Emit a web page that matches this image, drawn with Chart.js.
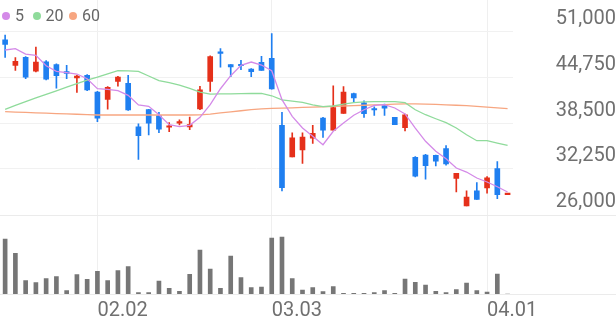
<!DOCTYPE html>
<html><head><meta charset="utf-8">
<script src="https://cdn.jsdelivr.net/npm/chart.js@4/dist/chart.umd.min.js"></script>
<style>
html,body{margin:0;padding:0;background:#fff;}
#wrap{position:relative;width:616px;height:321px;overflow:hidden;}
#legend{position:absolute;left:0;top:0;font-family:Roboto,sans-serif;font-size:16px;color:#666;}
.item{position:absolute;top:8px;height:16px;line-height:16px;display:flex;align-items:center;white-space:nowrap;}
.dot{width:8px;height:8px;border-radius:50%;margin-right:5px;}
</style></head>
<body><div id="wrap"><canvas id="c" width="616" height="321"></canvas><div id="legend"></div></div>
<script>
const dates = ['01.20','01.21','01.22','01.23','01.26','01.27','01.28','01.29','01.30',
  '02.02','02.03','02.04','02.05','02.06','02.09','02.10','02.11','02.12','02.13','02.19','02.20','02.23','02.24','02.25','02.26','02.27',
  '03.03','03.04','03.05','03.06','03.09','03.10','03.11','03.12','03.13','03.16','03.17','03.18','03.19','03.20','03.23','03.24','03.25','03.26','03.27','03.30','03.31',
  '04.01','04.02','04.03'];
const monthTicks = ['02.02','03.03','04.01'];
const priceTicks = [26000,32250,38500,44750,51000];

const openP  = [49900,46400,47500,45600,46900,46500,45550,44700,45050,42750,41750,44200,43950,38000,40350,39550,37950,38500,38000,40450,44200,48250,46500,46550,45900,46800,47350,38200,33900,34850,36450,39200,37550,39850,42550,41300,40450,40900,39300,37900,33850,34150,34100,35050,30950,27200,29250,29650,32300,28750];
const closeP = [49250,46950,44800,46850,44500,45000,45300,44950,43050,39200,43400,44800,40300,36800,38500,37700,38150,38700,38300,43050,47600,48050,46200,46350,45550,45700,43200,29700,36500,36600,37100,37550,40650,42750,41950,39800,40300,40550,38300,39650,31250,32700,33300,32950,31650,28400,28100,31050,28750,28850];
const highP  = [50550,47450,47600,48900,47050,46600,46400,45050,45150,42850,43500,44900,45050,38400,40400,40000,38600,38950,39350,43550,47700,48700,46500,47100,45950,47650,50750,40000,37200,37200,38200,39300,43600,43500,42600,41550,40750,41100,39300,39750,33950,34250,34150,35450,31650,29250,30400,31200,33250,28850];
const lowP   = [47500,45700,44600,45500,44400,43300,44600,42700,42950,38700,40400,43550,40250,33550,36900,37200,37350,38250,37600,40350,42850,46150,44850,45800,44850,45700,43150,29250,33900,33000,35750,36550,37550,39850,41400,39300,39550,39550,38300,37450,31150,30850,32650,32750,29100,27200,28100,28950,28200,28750];
const volume = [550000,407000,133000,113000,153000,173000,33000,193000,147000,227000,133000,233000,273000,13000,13000,130000,57000,27000,197000,440000,250000,57000,380000,163000,63000,70000,560000,570000,153000,40000,63000,23000,73000,7000,7000,7000,13000,33000,7000,150000,117000,90000,27000,13000,43000,110000,33000,20000,200000,0];
const ma5  = [48500,48680,47950,47770,46350,45590,45400,45220,44580,43210,43130,42940,42310,40990,40800,39660,38290,38020,38210,39300,41030,43210,44990,46400,46860,46450,45670,41710,39440,37840,36710,35560,37390,38530,39580,40340,40940,41030,40580,39760,37840,36030,34660,33650,32380,31830,31010,30470,29820,29100];
const ma20 = [40400,40930,41450,41950,42450,42930,43420,43900,44400,44800,45250,45670,45650,45590,44950,44330,44050,43700,43250,42750,42480,42500,42520,42540,42560,42560,42250,41700,41530,41350,40990,40760,40850,41120,41300,41400,41450,41450,41450,41300,40340,39660,39110,38570,37840,36930,36110,36110,35790,35480];
const ma60 = [40070,40020,39970,39920,39870,39820,39770,39720,39670,39620,39620,39620,39620,39620,39620,39620,39620,39620,39620,39650,39750,39900,40050,40200,40350,40450,40530,40550,40600,40650,40700,40750,40800,40850,40890,40950,41000,41050,41100,41150,41150,41100,41080,41000,40950,40900,40800,40700,40600,40500];
const maNames = ['5','20','60'];

const UP = '#e5301a', DOWN = '#1f7ff0';
const MA_COLORS = ['#d48ae8','#8fdb9b','#f7a681'];
const candleColor = openP.map((o,i) => closeP[i] >= o ? UP : DOWN);

// legend (HTML text)
const legendPos = [2, 32.5, 69];
const lg = document.getElementById('legend');
maNames.forEach((n,i) => {
  const it = document.createElement('div');
  it.className = 'item'; it.style.left = legendPos[i] + 'px';
  it.innerHTML = '<span class="dot" style="background:' + MA_COLORS[i] + '"></span><span>' + n + '</span>';
  lg.appendChild(it);
});

const separators = {
  id: 'separators',
  beforeDatasetsDraw(chart) {
    const {ctx, chartArea, scales} = chart;
    const y0 = Math.round(scales.y.getPixelForValue(priceTicks[0])) + 0.5;
    const yb = Math.round(chartArea.bottom) + 0.5;
    ctx.save();
    ctx.strokeStyle = '#ebebeb'; ctx.lineWidth = 1;
    ctx.beginPath(); ctx.moveTo(0, y0); ctx.lineTo(chart.width, y0);
    ctx.moveTo(0, yb); ctx.lineTo(chart.width, yb); ctx.stroke();
    ctx.restore();
  }
};

const font = {family: 'Roboto', size: 20};
new Chart(document.getElementById('c'), {
  type: 'bar',
  data: {
    labels: dates,
    datasets: [
      {type:'line', label:'MA5', data: ma5, yAxisID:'y', borderColor: MA_COLORS[0], borderWidth:1.3, pointRadius:0, tension:0, order:0},
      {type:'line', label:'MA20', data: ma20, yAxisID:'y', borderColor: MA_COLORS[1], borderWidth:1.3, pointRadius:0, tension:0, order:0},
      {type:'line', label:'MA60', data: ma60, yAxisID:'y', borderColor: MA_COLORS[2], borderWidth:1.3, pointRadius:0, tension:0, order:0},
      {label:'body', data: openP.map((o,i) => [o, closeP[i]]), yAxisID:'y', backgroundColor: candleColor, barThickness:5, grouped:false, minBarLength:1.5, order:1},
      {label:'wick', data: lowP.map((l,i) => [l, highP[i]]), yAxisID:'y', backgroundColor: candleColor, barThickness:1, grouped:false, order:2},
      {label:'volume', data: volume, yAxisID:'y1', backgroundColor:'#767676', barThickness:4, grouped:false, order:3}
    ]
  },
  options: {
    responsive:false, animation:false,
    layout:{padding:0},
    plugins:{legend:{display:false}, tooltip:{enabled:false}},
    scales:{
      x:{
        offset:true,
        grid:{offset:false, drawTicks:false, lineWidth:1,
          color: c => monthTicks.includes(dates[c.index]) ? '#efefef' : 'rgba(0,0,0,0)'},
        border:{display:false},
        ticks:{autoSkip:false, maxRotation:0, minRotation:0, align:'start', padding:5, color:'#707070', font,
          callback:(v,i) => monthTicks.includes(dates[i]) ? dates[i] : ''},
        afterFit: s => { s.height = 27; s.paddingLeft = 0; s.paddingRight = 0; }
      },
      y:{
        position:'right', min:15167, max:55331,
        afterBuildTicks: s => { s.ticks = priceTicks.map(v => ({value:v})); },
        grid:{drawTicks:false, color: c => (c.tick && c.tick.value === priceTicks[0]) ? 'rgba(0,0,0,0)' : '#f1f1f1'},
        border:{display:false},
        ticks:{padding:37, crossAlign:'far', labelOffset:-12.5, color:'#707070', font,
          callback: v => v.toLocaleString('en-US')},
        afterFit: s => { s.width = 103.3; s.paddingTop = 0; s.paddingBottom = 0; }
      },
      y1:{display:false, min:0, max:2940000}
    }
  },
  plugins:[separators]
});
</script>
</body></html>
